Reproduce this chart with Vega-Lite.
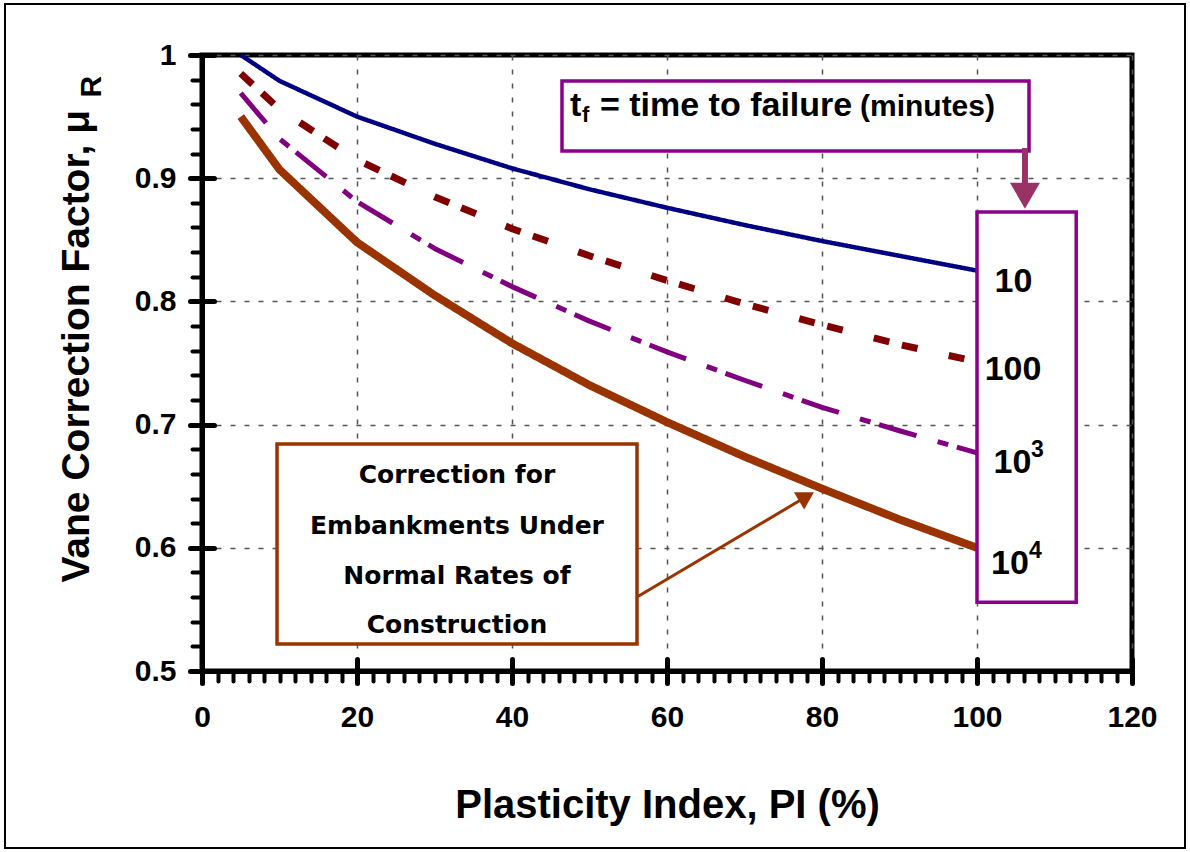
{
  "$schema": "https://vega.github.io/schema/vega-lite/v6.json",
  "width": 930,
  "height": 616,
  "autosize": {"type": "none"},
  "padding": {"left": 202, "top": 55, "right": 58, "bottom": 181},
  "background": "white",
  "config": {"view": {"stroke": "black", "strokeWidth": 5}, "font": "Liberation Sans"},
  "datasets": {
    "curves": [
      {"pi": 5, "mu": 1.0, "tf": "10"}, {"pi": 10, "mu": 0.979, "tf": "10"}, {"pi": 20, "mu": 0.95, "tf": "10"}, {"pi": 30, "mu": 0.928, "tf": "10"}, {"pi": 40, "mu": 0.908, "tf": "10"}, {"pi": 50, "mu": 0.891, "tf": "10"}, {"pi": 60, "mu": 0.876, "tf": "10"}, {"pi": 70, "mu": 0.862, "tf": "10"}, {"pi": 80, "mu": 0.849, "tf": "10"}, {"pi": 90, "mu": 0.837, "tf": "10"}, {"pi": 100, "mu": 0.825, "tf": "10"},
      {"pi": 5, "mu": 0.985, "tf": "100"}, {"pi": 10, "mu": 0.956, "tf": "100"}, {"pi": 20, "mu": 0.915, "tf": "100"}, {"pi": 30, "mu": 0.885, "tf": "100"}, {"pi": 40, "mu": 0.859, "tf": "100"}, {"pi": 50, "mu": 0.837, "tf": "100"}, {"pi": 60, "mu": 0.817, "tf": "100"}, {"pi": 70, "mu": 0.798, "tf": "100"}, {"pi": 80, "mu": 0.781, "tf": "100"}, {"pi": 90, "mu": 0.765, "tf": "100"}, {"pi": 100, "mu": 0.751, "tf": "100"},
      {"pi": 5, "mu": 0.969, "tf": "1000"}, {"pi": 10, "mu": 0.932, "tf": "1000"}, {"pi": 20, "mu": 0.881, "tf": "1000"}, {"pi": 30, "mu": 0.843, "tf": "1000"}, {"pi": 40, "mu": 0.812, "tf": "1000"}, {"pi": 50, "mu": 0.784, "tf": "1000"}, {"pi": 60, "mu": 0.759, "tf": "1000"}, {"pi": 70, "mu": 0.736, "tf": "1000"}, {"pi": 80, "mu": 0.714, "tf": "1000"}, {"pi": 90, "mu": 0.695, "tf": "1000"}, {"pi": 100, "mu": 0.677, "tf": "1000"},
      {"pi": 5, "mu": 0.95, "tf": "10000"}, {"pi": 10, "mu": 0.907, "tf": "10000"}, {"pi": 20, "mu": 0.848, "tf": "10000"}, {"pi": 30, "mu": 0.805, "tf": "10000"}, {"pi": 40, "mu": 0.766, "tf": "10000"}, {"pi": 50, "mu": 0.732, "tf": "10000"}, {"pi": 60, "mu": 0.702, "tf": "10000"}, {"pi": 70, "mu": 0.674, "tf": "10000"}, {"pi": 80, "mu": 0.648, "tf": "10000"}, {"pi": 90, "mu": 0.623, "tf": "10000"}, {"pi": 100, "mu": 0.6, "tf": "10000"}
    ],
    "frame": [{"x1": -25.42, "x2": 126.84, "y1": 1.0414, "y2": 0.3563}],
    "boxes": [
      {"name": "tf", "x1": 46.45, "x2": 106.71, "y1": 0.9789, "y2": 0.9221},
      {"name": "labels", "x1": 100, "x2": 112.8, "y1": 0.8725, "y2": 0.5558},
      {"name": "embank", "x1": 9.68, "x2": 56.13, "y1": 0.6843, "y2": 0.5219}
    ],
    "tfMain": [
      {"x": 47.48, "y": 0.9505, "label": "t"},
      {"x": 51.35, "y": 0.9505, "label": "= time to failure"}
    ],
    "tfSub": [{"x": 49.03, "y": 0.9456, "label": "f"}],
    "tfUnit": [{"x": 84.9, "y": 0.9505, "label": "(minutes)"}],
    "tfLabels": [
      {"x": 104.71, "y": 0.8076, "label": "10"},
      {"x": 104.65, "y": 0.7362, "label": "100"},
      {"x": 104.58, "y": 0.6607, "label": "10"},
      {"x": 104.26, "y": 0.5787, "label": "10"}
    ],
    "tfSup": [
      {"x": 106.97, "y": 0.6737, "label": "3"},
      {"x": 106.71, "y": 0.5917, "label": "4"}
    ],
    "embankText": [
      {"x": 32.9, "y": 0.6526, "label": "Correction for"},
      {"x": 32.9, "y": 0.6112, "label": "Embankments Under"},
      {"x": 32.9, "y": 0.5706, "label": "Normal Rates of"},
      {"x": 32.9, "y": 0.5308, "label": "Construction"}
    ],
    "ySub": [{"x": -13.0, "y": 0.9655, "label": "R"}],
    "arrowTf": [{"x1": 106.19, "y1": 0.9245, "x2": 106.19, "y2": 0.8858}],
    "arrowEmb": [{"x1": 56.13, "y1": 0.5601, "x2": 78.0, "y2": 0.6416}]
  },
  "resolve": {"axis": {"x": "independent", "y": "independent"}},
  "layer": [
    {
      "data": {"name": "frame"},
      "mark": {"type": "rect", "filled": false, "stroke": "black", "strokeWidth": 2},
      "encoding": {
        "x": {"field": "x1", "type": "quantitative", "scale": {"domain": [0, 120]},
          "axis": {"orient": "bottom", "values": [0,2,4,6,8,10,12,14,16,18,20,22,24,26,28,30,32,34,36,38,40,42,44,46,48,50,52,54,56,58,60,62,64,66,68,70,72,74,76,78,80,82,84,86,88,90,92,94,96,98,100,102,104,106,108,110,112,114,116,118,120],
            "tickSize": 10, "tickWidth": 4, "tickColor": "black", "tickCap": "round", "labels": false, "domain": false, "grid": false, "title": null}},
        "x2": {"field": "x2"},
        "y": {"field": "y1", "type": "quantitative", "scale": {"domain": [0.5, 1]},
          "axis": {"orient": "left", "values": [0.5,0.52,0.54,0.56,0.58,0.6,0.62,0.64,0.66,0.68,0.7,0.72,0.74,0.76,0.78,0.8,0.82,0.84,0.86,0.88,0.9,0.92,0.94,0.96,0.98,1],
            "tickSize": 10, "tickWidth": 4, "tickColor": "black", "tickCap": "round", "labels": false, "domain": false, "grid": false, "title": null}},
        "y2": {"field": "y2"}
      }
    },
    {
      "data": {"name": "curves"},
      "mark": {"type": "line", "strokeCap": "butt", "strokeJoin": "round"},
      "encoding": {
        "x": {"field": "pi", "type": "quantitative", "scale": {"domain": [0, 120]},
          "axis": {"orient": "bottom", "values": [0, 20, 40, 60, 80, 100, 120], "title": "Plasticity Index, PI (%)",
            "titleFont": "Liberation Sans", "titleFontSize": 40, "titleFontWeight": "bold", "titleColor": "black", "titleY": 146, "titleBaseline": "alphabetic",
            "labelFont": "Liberation Sans", "labelFontSize": 30, "labelFontWeight": "bold", "labelColor": "black", "labelPadding": 19, "labelFlush": false, "labelOverlap": false,
            "tickSize": 12, "tickWidth": 5, "tickColor": "black", "tickCap": "round", "domainColor": "black", "domainWidth": 5,
            "grid": true, "gridDash": [5, 9], "gridColor": "#555555", "gridWidth": 1.5, "gridOpacity": 1}},
        "y": {"field": "mu", "type": "quantitative", "scale": {"domain": [0.5, 1]},
          "axis": {"orient": "left", "values": [0.5, 0.6, 0.7, 0.8, 0.9, 1], "format": "~g", "title": "Vane Correction Factor, μ",
            "titleFont": "Liberation Sans", "titleFontSize": 39, "titleFontWeight": "bold", "titleColor": "black", "titleAngle": 270, "titleAlign": "left", "titleBaseline": "alphabetic", "titleX": -114, "titleY": 527,
            "labelFont": "Liberation Sans", "labelFontSize": 30, "labelFontWeight": "bold", "labelColor": "black", "labelPadding": 14, "labelFlush": false, "labelOverlap": false,
            "tickSize": 12, "tickWidth": 5, "tickColor": "black", "tickCap": "round", "domainColor": "black", "domainWidth": 5,
            "grid": true, "gridDash": [5, 9], "gridColor": "#555555", "gridWidth": 1.5, "gridOpacity": 1}},
        "color": {"field": "tf", "type": "nominal", "scale": {"domain": ["10", "100", "1000", "10000"], "range": ["#000080", "#800000", "#800080", "#993300"]}, "legend": null},
        "strokeDash": {"field": "tf", "type": "nominal", "scale": {"domain": ["10", "100", "1000", "10000"], "range": [[1, 0], [16, 13, 16, 32], [39, 22, 11, 9], [1, 0]]}, "legend": null},
        "strokeWidth": {"field": "tf", "type": "nominal", "scale": {"type": "ordinal", "domain": ["10", "100", "1000", "10000"], "range": [4.5, 7, 5, 8]}, "legend": null}
      }
    },
    {
      "data": {"name": "boxes"},
      "mark": {"type": "rect", "fill": "white", "strokeWidth": 3.5},
      "encoding": {
        "x": {"field": "x1", "type": "quantitative", "scale": {"domain": [0, 120]},
          "axis": {"orient": "bottom", "values": [0, 20, 40, 60, 80, 100, 120], "tickSize": -12, "tickWidth": 5, "tickColor": "black", "tickCap": "round", "labels": false, "domain": false, "grid": false, "title": null}},
        "x2": {"field": "x2"},
        "y": {"field": "y1", "type": "quantitative", "scale": {"domain": [0.5, 1]},
          "axis": {"orient": "left", "values": [0.5, 0.6, 0.7, 0.8, 0.9, 1], "tickSize": -12, "tickWidth": 5, "tickColor": "black", "tickCap": "round", "labels": false, "domain": false, "grid": false, "title": null}},
        "y2": {"field": "y2"},
        "stroke": {"field": "name", "type": "nominal", "scale": {"domain": ["tf", "labels", "embank"], "range": ["#8B008B", "#8B008B", "#993300"]}, "legend": null}
      }
    },
    {
      "data": {"name": "tfMain"},
      "mark": {"type": "text", "font": "Liberation Sans", "fontSize": 34, "fontWeight": "bold", "align": "left", "baseline": "alphabetic", "color": "black"},
      "encoding": {
        "x": {"field": "x", "type": "quantitative", "axis": null},
        "y": {"field": "y", "type": "quantitative", "axis": null},
        "text": {"field": "label"}
      }
    },
    {
      "data": {"name": "tfSub"},
      "mark": {"type": "text", "font": "Liberation Sans", "fontSize": 22, "fontWeight": "bold", "align": "left", "baseline": "alphabetic", "color": "black"},
      "encoding": {
        "x": {"field": "x", "type": "quantitative", "axis": null},
        "y": {"field": "y", "type": "quantitative", "axis": null},
        "text": {"field": "label"}
      }
    },
    {
      "data": {"name": "tfUnit"},
      "mark": {"type": "text", "font": "Liberation Sans", "fontSize": 30, "fontWeight": "bold", "align": "left", "baseline": "alphabetic", "color": "black"},
      "encoding": {
        "x": {"field": "x", "type": "quantitative", "axis": null},
        "y": {"field": "y", "type": "quantitative", "axis": null},
        "text": {"field": "label"}
      }
    },
    {
      "data": {"name": "tfLabels"},
      "mark": {"type": "text", "font": "Liberation Sans", "fontSize": 34, "fontWeight": "bold", "align": "center", "baseline": "alphabetic", "color": "black"},
      "encoding": {
        "x": {"field": "x", "type": "quantitative", "axis": null},
        "y": {"field": "y", "type": "quantitative", "axis": null},
        "text": {"field": "label"}
      }
    },
    {
      "data": {"name": "tfSup"},
      "mark": {"type": "text", "font": "Liberation Sans", "fontSize": 23, "fontWeight": "bold", "align": "left", "baseline": "alphabetic", "color": "black"},
      "encoding": {
        "x": {"field": "x", "type": "quantitative", "axis": null},
        "y": {"field": "y", "type": "quantitative", "axis": null},
        "text": {"field": "label"}
      }
    },
    {
      "data": {"name": "embankText"},
      "mark": {"type": "text", "font": "DejaVu Sans", "fontSize": 25, "fontWeight": "bold", "align": "center", "baseline": "alphabetic", "color": "black"},
      "encoding": {
        "x": {"field": "x", "type": "quantitative", "axis": null},
        "y": {"field": "y", "type": "quantitative", "axis": null},
        "text": {"field": "label"}
      }
    },
    {
      "data": {"name": "ySub"},
      "mark": {"type": "text", "font": "Liberation Sans", "fontSize": 30, "fontWeight": "bold", "align": "left", "baseline": "alphabetic", "angle": 270, "color": "black"},
      "encoding": {
        "x": {"field": "x", "type": "quantitative", "axis": null},
        "y": {"field": "y", "type": "quantitative", "axis": null},
        "text": {"field": "label"}
      }
    },
    {
      "data": {"name": "arrowTf"},
      "mark": {"type": "rule", "color": "#993366", "strokeWidth": 6},
      "encoding": {
        "x": {"field": "x1", "type": "quantitative", "axis": null},
        "y": {"field": "y1", "type": "quantitative", "axis": null},
        "x2": {"field": "x2"},
        "y2": {"field": "y2"}
      }
    },
    {
      "data": {"name": "arrowTf"},
      "mark": {"type": "point", "shape": "triangle-down", "size": 900, "filled": true, "color": "#993366", "opacity": 1},
      "encoding": {
        "x": {"field": "x2", "type": "quantitative", "axis": null},
        "y": {"field": "y2", "type": "quantitative", "axis": null}
      }
    },
    {
      "data": {"name": "arrowEmb"},
      "mark": {"type": "rule", "color": "#993300", "strokeWidth": 3},
      "encoding": {
        "x": {"field": "x1", "type": "quantitative", "axis": null},
        "y": {"field": "y1", "type": "quantitative", "axis": null},
        "x2": {"field": "x2"},
        "y2": {"field": "y2"}
      }
    },
    {
      "data": {"name": "arrowEmb"},
      "mark": {"type": "point", "shape": "triangle-right", "size": 400, "angle": 329.4, "filled": true, "color": "#993300", "opacity": 1},
      "encoding": {
        "x": {"field": "x2", "type": "quantitative", "axis": null},
        "y": {"field": "y2", "type": "quantitative", "axis": null}
      }
    }
  ]
}
